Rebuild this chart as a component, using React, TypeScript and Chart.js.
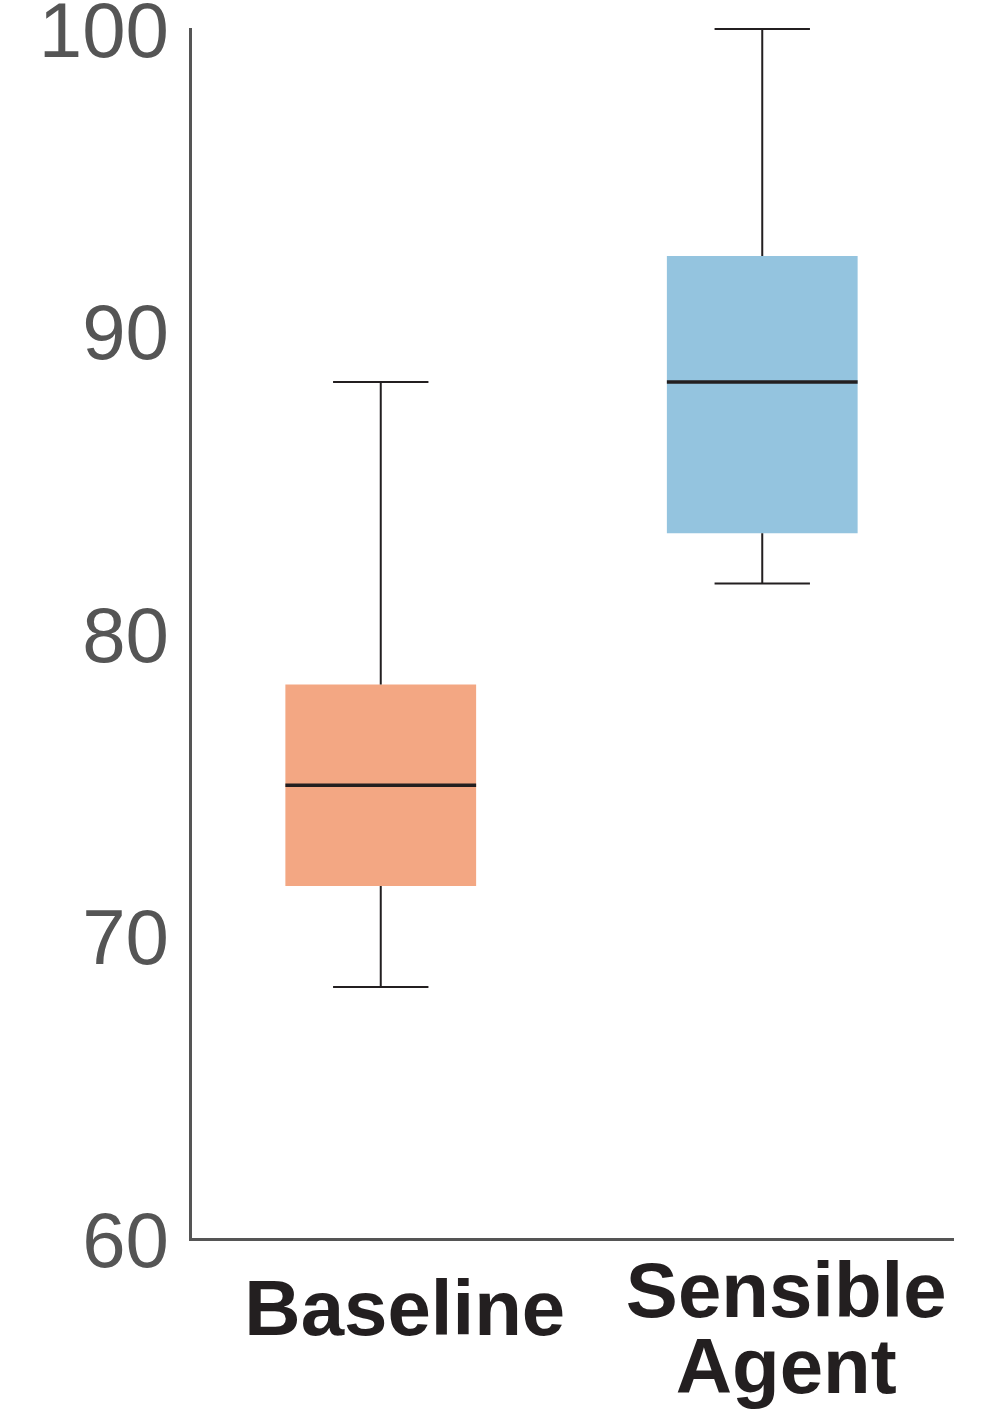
import React, { useEffect, useRef } from "react";
import { Chart, registerables } from "chart.js";

Chart.register(...registerables);

const categories: (string | string[])[] = ["Baseline", ["Sensible", "Agent"]];
const whiskerMin = [68.33, 81.67];
const q1 = [71.67, 83.33];
const median = [75.0, 88.33];
const q3 = [78.33, 92.5];
const whiskerMax = [88.33, 100];
const boxColors = ["#F3A783", "#94C4DF"];
const yTicks = [60, 70, 80, 90, 100];

const FONT = "'Liberation Sans', Arial, Helvetica, sans-serif";

const boxPlotPlugin = {
  id: "boxWhiskers",
  afterDatasetsDraw(chart: any) {
    const meta = chart.getDatasetMeta(0);
    const y = chart.scales.y;
    const ctx = chart.ctx;
    ctx.save();
    meta.data.forEach((bar: any, i: number) => {
      const cx = bar.x;
      const w = bar.width;
      const capHalf = w / 4;
      const pMin = y.getPixelForValue(whiskerMin[i]);
      const pQ1 = y.getPixelForValue(q1[i]);
      const pMed = y.getPixelForValue(median[i]);
      const pQ3 = y.getPixelForValue(q3[i]);
      const pMax = y.getPixelForValue(whiskerMax[i]);
      ctx.strokeStyle = "#231f20";
      ctx.lineWidth = 2;
      ctx.beginPath();
      ctx.moveTo(cx, pQ3);
      ctx.lineTo(cx, pMax);
      ctx.moveTo(cx - capHalf, pMax);
      ctx.lineTo(cx + capHalf, pMax);
      ctx.moveTo(cx, pQ1);
      ctx.lineTo(cx, pMin);
      ctx.moveTo(cx - capHalf, pMin);
      ctx.lineTo(cx + capHalf, pMin);
      ctx.stroke();
      ctx.lineWidth = 3.5;
      ctx.beginPath();
      ctx.moveTo(cx - w / 2, pMed);
      ctx.lineTo(cx + w / 2, pMed);
      ctx.stroke();
    });
    ctx.restore();
  },
};

export default function App() {
  const canvasRef = useRef<HTMLCanvasElement>(null);

  useEffect(() => {
    document.body.style.margin = "0";
    const canvas = canvasRef.current;
    if (!canvas) return;
    const chart = new Chart(canvas, {
      type: "bar",
      data: {
        labels: categories as any,
        datasets: [
          {
            label: "Score",
            data: q1.map((v, i) => [v, q3[i]]) as any,
            backgroundColor: boxColors,
            borderWidth: 0,
            barPercentage: 0.5,
            categoryPercentage: 1.0,
          },
        ],
      },
      options: {
        responsive: false,
        animation: false,
        layout: { padding: { top: 29, right: 44, bottom: 0, left: 0 } },
        plugins: {
          legend: { display: false },
          tooltip: { enabled: false },
          title: { display: false },
        },
        scales: {
          x: {
            type: "category",
            grid: { display: false, drawTicks: false },
            border: { display: true, color: "#555555", width: 3 },
            ticks: {
              color: "#231f20",
              padding: 18,
              labelOffset: 24,
              maxRotation: 0,
              autoSkip: false,
              font: (ctx: any) => ({
                family: FONT,
                size: 78,
                weight: "bold",
                lineHeight: ctx.index === 0 ? "112px" : "76px",
              }),
            },
            afterFit: (scale: any) => {
              scale.height = 174;
              scale.paddingLeft = 0;
              scale.paddingRight = 0;
            },
          },
          y: {
            min: 60,
            max: 100,
            afterBuildTicks: (scale: any) => {
              scale.ticks = yTicks.map((v) => ({ value: v }));
            },
            grid: { display: false, drawTicks: false },
            border: { display: true, color: "#555555", width: 3 },
            ticks: {
              color: "#555555",
              padding: 21,
              labelOffset: 6,
              font: { family: FONT, size: 78, weight: "normal" },
            },
            afterFit: (scale: any) => {
              scale.width = 190;
              scale.paddingTop = 0;
              scale.paddingBottom = 0;
            },
          },
        },
      },
      plugins: [boxPlotPlugin],
    });
    return () => chart.destroy();
  }, []);

  return (
    <div style={{ width: 997, height: 1413, background: "#ffffff" }}>
      <canvas ref={canvasRef} width={997} height={1413} />
    </div>
  );
}
